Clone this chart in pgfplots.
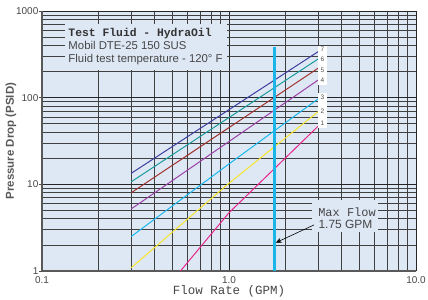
\documentclass[border=0pt]{standalone}
\usepackage{fontspec}
\setmainfont{Liberation Sans}
\newfontfamily\monofont{Liberation Mono}
\usepackage{pgfplots}
\pgfplotsset{compat=1.18}
\usetikzlibrary{arrows.meta}
\definecolor{bgblue}{RGB}{222,232,245}
\definecolor{c1}{RGB}{232,37,138}
\definecolor{c2}{RGB}{247,229,42}
\definecolor{c3}{RGB}{24,184,238}
\definecolor{c4}{RGB}{155,63,165}
\definecolor{c5}{RGB}{160,48,42}
\definecolor{c6}{RGB}{26,155,155}
\definecolor{c7}{RGB}{60,62,160}
\definecolor{maxc}{RGB}{27,181,232}
\definecolor{txtgray}{RGB}{70,70,70}
\tikzset{curvelab/.style={font=\fontsize{6.5}{7}\selectfont, text=black!70, inner sep=0}}
\begin{document}
\begin{tikzpicture}
\path[use as bounding box] (0,0) rectangle (428bp,300bp);
\begin{axis}[
  at={(42bp,29bp)}, anchor=south west,
  scale only axis, width=374bp, height=260bp,
  xmode=log, ymode=log,
  xmin=0.1, xmax=10, ymin=1, ymax=1000,
  axis background/.style={fill=bgblue},
  grid=both,
  major grid style={draw=black!85, line width=0.7pt},
  minor grid style={draw=black!75, line width=0.7pt},
  axis x line*=bottom, axis y line*=left,
  axis line style={draw=black!65, line width=1.3pt, -},
  xtick={0.1,1,10}, xticklabels={0.1,1.0,10.0},
  ytick={1,10,100,1000}, yticklabels={1,10,100,1000},
  tick align=outside,
  major tick length=3bp, minor tick length=0pt,
  xtick style={draw=none},
  ytick style={draw=black!70, line width=0.6pt},
  tick label style={font=\fontsize{10}{12}\selectfont, text=txtgray},
  yticklabel style={inner sep=0.5bp},
  xticklabel style={inner sep=1bp, yshift=-1bp},
  /pgf/number format/assume math mode=true,
  clip=false,
]
% curves
\addplot[c1, line width=1pt] coordinates {(0.55,1) (1.0,4.7) (3.0,47)};
\addplot[c2, line width=1pt] coordinates {(0.3,1.09) (1.0,10.3) (3.0,69)};
\addplot[c3, line width=1pt] coordinates {(0.3,2.5) (1.0,17.2) (3.0,97)};
\addplot[c4, line width=1pt] coordinates {(0.3,5.2) (3.0,160)};
\addplot[c5, line width=1pt] coordinates {(0.3,8.0) (3.0,219)};
\addplot[c6, line width=1pt] coordinates {(0.3,10.7) (3.0,280)};
\addplot[c7, line width=1pt] coordinates {(0.3,13.4) (3.0,340)};
% max flow line
\addplot[maxc, line width=2.2pt] coordinates {(1.75,1) (1.75,383)};
% text box
\fill[bgblue] (axis cs:0.1328,209) rectangle (axis cs:0.976,711);
\node[anchor=west, inner sep=0, font=\monofont\bfseries\fontsize{11.4}{13}\selectfont, text=black!80] at (rel axis cs:0.0703,0.914) {Test Fluid - HydraOil};
\node[anchor=west, inner sep=0, font=\fontsize{11.4}{13}\selectfont, text=txtgray] at (rel axis cs:0.0703,0.869) {Mobil DTE-25 150 SUS};
\node[anchor=west, inner sep=0, font=\fontsize{11.4}{13}\selectfont, text=txtgray] at (rel axis cs:0.0703,0.8115) {Fluid test temperature - 120° F};
% curve labels
\fill[white] (axis cs:3.0,140) rectangle (axis cs:3.36,396);
\fill[white] (axis cs:3.0,44.7) rectangle (axis cs:3.36,113);
\node[curvelab] at (axis cs:3.16,359) {7};
\node[curvelab] at (axis cs:3.16,278) {6};
\node[curvelab] at (axis cs:3.16,208) {5};
\node[curvelab] at (axis cs:3.16,160) {4};
\node[curvelab] at (axis cs:3.16,100) {3};
\node[curvelab] at (axis cs:3.16,69) {2};
\node[curvelab] at (axis cs:3.16,51) {1};
% max flow box
\fill[bgblue] (axis cs:2.77,2.8) rectangle (axis cs:6.26,6.57);
\node[inner sep=0, font=\monofont\fontsize{12}{14}\selectfont, text=txtgray] at (rel axis cs:0.8155,0.227) {Max Flow};
\node[inner sep=0, font=\fontsize{12}{14}\selectfont, text=txtgray] at (rel axis cs:0.8115,0.181) {1.75 GPM};
\draw[black, line width=0.6pt, -{Stealth[length=6bp,width=5bp]}] (rel axis cs:0.727,0.177) -- (rel axis cs:0.6249,0.1088);
\end{axis}
\node[font=\monofont\fontsize{12.5}{14}\selectfont, text=txtgray] at (229bp,8.3bp) {Flow Rate (GPM)};
\node[font=\bfseries\fontsize{11.5}{13}\selectfont, text=black!65, rotate=90] at (11bp,159bp) {Pressure Drop (PSID)};
\end{tikzpicture}
\end{document}
